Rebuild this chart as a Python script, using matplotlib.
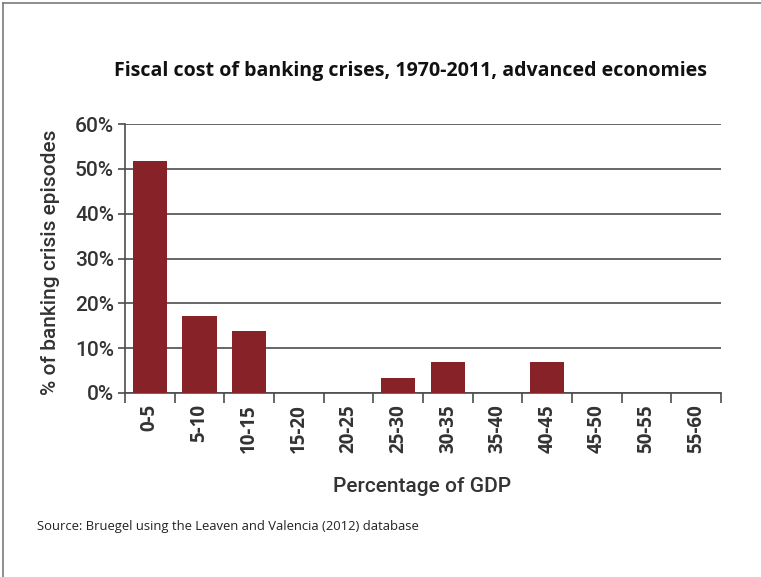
import matplotlib
matplotlib.use("Agg")
import matplotlib.pyplot as plt
from matplotlib.lines import Line2D
from matplotlib.ticker import FuncFormatter

categories = ["0-5", "5-10", "10-15", "15-20", "20-25", "25-30",
              "30-35", "35-40", "40-45", "45-50", "50-55", "55-60"]
shares = [51.7, 17.2, 13.8, 0.0, 0.0, 3.4, 6.9, 0.0, 6.9, 0.0, 0.0, 0.0]
y_ticks = [0, 10, 20, 30, 40, 50, 60]

title = "Fiscal cost of banking crises, 1970-2011, advanced economies"
y_label = "% of banking crisis episodes"
x_label = "Percentage of GDP"
source = "Source: Bruegel using the Leaven and Valencia (2012) database"

narrow = "Roboto"
body = "Open Sans"

bar_color = "#862228"
grid_color = "#4d4d4d"
text_color = "#333333"

fig = plt.figure(figsize=(7.61, 5.77), dpi=100)
ax = fig.add_axes([0.1643, 0.3189, 0.9474 - 0.1643, 0.785 - 0.3189])

x = list(range(len(categories)))
ax.bar(x, shares, width=0.69, color=bar_color, zorder=3)

ax.set_xlim(-0.5, len(categories) - 0.5)
ax.set_ylim(0, 60)
ax.set_yticks(y_ticks)
ax.yaxis.set_major_formatter(FuncFormatter(lambda v, p: f"{int(v)}%"))
ax.grid(axis="y", color=grid_color, linewidth=1.2, zorder=1)
ax.set_axisbelow(True)

for side in ("top", "right"):
    ax.spines[side].set_visible(False)
for side in ("left", "bottom"):
    ax.spines[side].set_color(grid_color)
    ax.spines[side].set_linewidth(1.2)

# category boundaries carry the x tick marks; labels sit under each bar
ax.set_xticks([i - 0.5 for i in range(len(categories) + 1)])
ax.set_xticklabels([])
ax.tick_params(axis="x", which="major", length=7, width=1.2, color=grid_color, direction="out")
ax.set_xticks(x, minor=True)
ax.set_xticklabels(categories, minor=True, rotation=90, fontsize=13.5,
                   fontfamily=body, fontweight="bold", color=text_color)
ax.tick_params(axis="x", which="minor", length=0, pad=8)
ax.tick_params(axis="y", length=5, width=1.2, color=grid_color, pad=3,
               labelsize=15, labelcolor=text_color)
for lbl in ax.get_yticklabels():
    lbl.set_fontfamily(narrow)
    lbl.set_fontweight("medium")

ax.set_ylabel(y_label, fontsize=15, fontfamily=narrow, fontweight="medium",
              color=text_color)
ax.yaxis.set_label_coords(-0.109, 0.485)
ax.set_xlabel(x_label, fontsize=15, fontfamily=narrow, fontweight="medium",
              color=text_color)
ax.xaxis.set_label_coords(0.499, -0.314)

fig.text(0.539, 0.877, title, ha="center", va="center", fontsize=14.1,
         fontfamily=body, fontweight="bold", color="#111111")
fig.text(0.048, 0.087, source, ha="left", va="center", fontsize=9.4,
         fontfamily=body, color="#222222")

# frame lines along the top and left edges
fig.add_artist(Line2D([0.004, 1.0], [0.995, 0.995], transform=fig.transFigure,
                      color="#7a7a7a", linewidth=1.2))
fig.add_artist(Line2D([0.004, 0.004], [0.0, 0.995], transform=fig.transFigure,
                      color="#7a7a7a", linewidth=1.2))

fig.savefig("out.png", dpi=100)
